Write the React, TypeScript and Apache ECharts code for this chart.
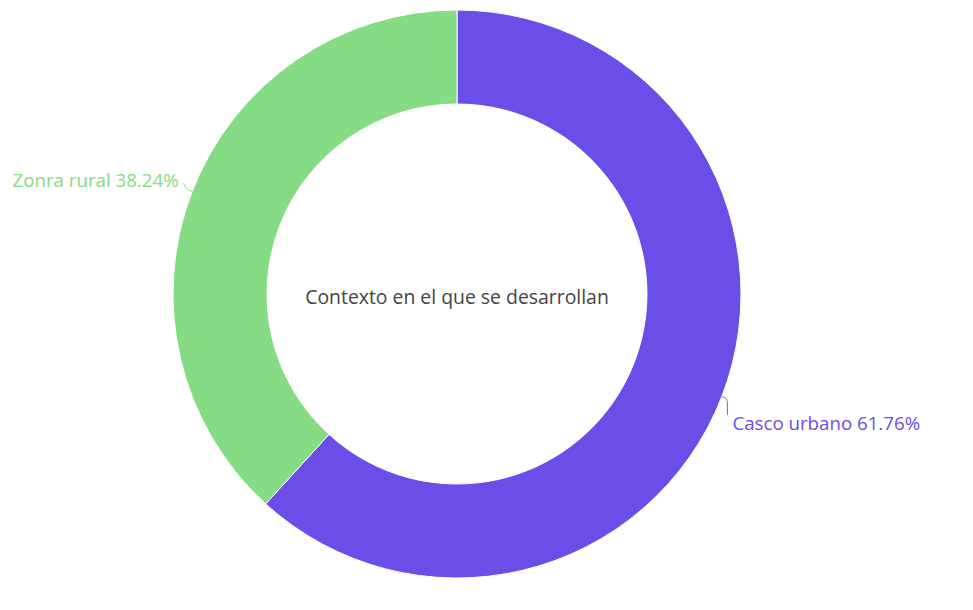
import React, { useEffect, useRef } from "react";
import * as echarts from "echarts";

const categories = ["Casco urbano", "Zonra rural"];
const values = [21, 13];
const colors = ["#6b4de8", "#86db85"];
const titleText = "Contexto en el que se desarrollan";

export default function App() {
  const ref = useRef<HTMLDivElement>(null);
  useEffect(() => {
    if (!ref.current) return;
    const chart = echarts.init(ref.current, null, { renderer: "svg" });
    const shifts = [
      { dx: -4, dy: 24 },
      { dx: 1, dy: -10 },
    ];
    chart.setOption({
      animation: false,
      backgroundColor: "#ffffff",
      title: {
        text: titleText,
        left: 452,
        top: 282,
        textAlign: "center",
        textStyle: {
          fontFamily: "Open Sans",
          fontWeight: "normal",
          fontSize: 19.4,
          color: "#444444",
        },
      },
      series: [
        {
          type: "pie",
          center: [457, 294],
          radius: [190, 284],
          startAngle: 90,
          itemStyle: { borderColor: "#ffffff", borderWidth: 1 },
          label: {
            formatter: "{b} {d}%",
            fontFamily: "Open Sans",
            fontWeight: 500,
            fontSize: 18.7,
          },
          labelLine: { length: 6, length2: 4, smooth: 0.3 },
          labelLayout: (p: any) => {
            const s = shifts[p.dataIndex];
            const pts = p.labelLinePoints;
            const out: any = { dx: s.dx, dy: s.dy };
            if (pts && pts.length === 3) {
              const lift = s.dy > 0 ? -8 : 4;
              out.labelLinePoints = [
                pts[0],
                pts[1],
                [pts[2][0] + s.dx, pts[2][1] + s.dy + lift],
              ];
            }
            return out;
          },
          data: categories.map((c, i) => ({
            name: c,
            value: values[i],
            itemStyle: { color: colors[i] },
            label: { color: colors[i] },
          })),
        },
      ],
    });
    return () => chart.dispose();
  }, []);
  return (
    <div
      ref={ref}
      style={{ position: "absolute", left: 0, top: 0, width: 973, height: 610 }}
    />
  );
}
